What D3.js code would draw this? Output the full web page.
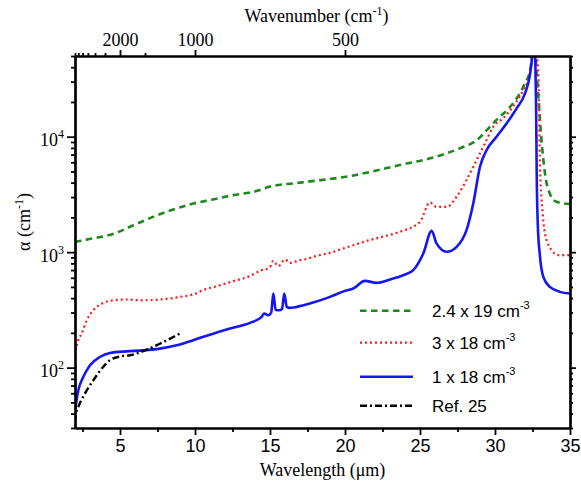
<!DOCTYPE html>
<html>
<head>
<meta charset="utf-8">
<script src="https://cdn.jsdelivr.net/npm/d3@7"></script>
<style>
  html, body { margin: 0; padding: 0; background: #fff; }
  svg { display: block; }
</style>
</head>
<body>
<svg id="chart" width="581" height="488"></svg>
<script>
// Absorption coefficient vs wavelength for three carrier densities plus a literature curve.

// 2.4 x 10^19 cm^-3
const wlHigh = [2.0, 3.2, 4.6, 5.9, 7.2, 8.55, 9.9, 11.2, 12.55, 13.9, 15.2, 16.55, 17.55, 20.3, 23.65, 25.9, 27.65, 28.8, 29.45, 30.1, 30.8, 31.45, 32.0, 32.35, 32.6, 32.78, 33.1, 33.33, 33.65, 34.1, 35.0];
const alphaHigh = [1230, 1315, 1450, 1710, 2020, 2340, 2640, 2860, 3120, 3330, 3750, 3940, 4080, 4560, 5680, 6620, 7930, 9360, 11400, 14000, 17000, 21500, 29000, 38000, 65000, 35500, 9360, 4820, 3230, 2730, 2610];

// 3 x 10^18 cm^-3
const wlMid = [2.0, 2.08, 2.22, 2.44, 2.78, 3.22, 3.88, 4.55, 5.45, 6.35, 7.65, 9.0, 9.9, 10.55, 11.45, 12.55, 13.65, 14.33, 14.98, 15.22, 15.55, 16.0, 16.33, 17.0, 17.55, 18.1, 19.0, 19.88, 20.78, 21.45, 22.4, 23.65, 25.0, 25.66, 26.1, 26.78, 27.44, 28.1, 28.55, 29.0, 29.44, 29.88, 30.55, 31.2, 31.88, 32.33, 32.6, 32.89, 33.0, 33.18, 33.33, 33.78, 34.22, 35.0];
const alphaMid = [140, 151, 173, 197, 257, 314, 363, 383, 389, 383, 389, 410, 432, 469, 507, 561, 620, 689, 736, 841, 757, 865, 807, 853, 881, 929, 986, 1077, 1173, 1252, 1350, 1500, 1832, 2696, 2470, 2470, 3020, 4210, 5490, 7180, 9360, 12210, 14450, 18200, 25400, 35500, 65000, 35500, 5490, 2170, 1453, 1040, 942, 942];

// 1 x 10^18 cm^-3
const wlLow = [2.0, 2.22, 2.55, 3.0, 3.66, 4.33, 5.44, 6.55, 7.66, 8.78, 9.88, 11.0, 12.33, 13.66, 14.44, 14.62, 14.88, 15.08, 15.22, 15.38, 15.6, 15.8, 15.95, 16.12, 16.3, 16.78, 17.88, 19.0, 20.0, 20.55, 21.33, 22.1, 23.0, 23.88, 24.55, 25.22, 25.78, 26.1, 26.78, 27.44, 28.1, 28.55, 29.0, 29.44, 30.1, 30.78, 31.44, 32.0, 32.33, 32.5, 32.6, 32.68, 32.74, 32.78, 32.85, 33.0, 33.22, 33.66, 34.33, 35.0];
const alphaLow = [42, 63.6, 82.8, 105, 123.6, 134, 138.4, 141, 146, 156, 173, 193, 218, 244, 275, 294, 284, 300, 438, 316, 314, 322, 438, 336, 329, 336, 366, 410, 462, 484, 564, 542, 580, 631, 699, 975, 1531, 1190, 1007, 1112, 1552, 2643, 5490, 7670, 10000, 13060, 17620, 23770, 34300, 52000, 75000, 52000, 18200, 4820, 1775, 910, 611, 500, 453, 438];

// Ref. 25
const wlRef = [2.0, 2.05, 2.22, 2.66, 3.22, 3.78, 4.33, 5.0, 5.66, 6.55, 7.66, 8.55, 9.1];
const alphaRef = [34, 38.6, 45.5, 59.6, 77.6, 98, 116, 125, 128, 139, 161, 184, 201];

// Axis ticks
const xMajorTicks = [5, 10, 15, 20, 25, 30, 35];
const xMinorTicks = [2.5, 7.5, 12.5, 17.5, 22.5, 27.5, 32.5];
const wnMajorTicks = [2000, 1000, 500];
const wnMinorTicks = [5000, 4500, 4000, 3500, 3000, 2500, 1500];
const yMajorTicks = [100, 1000, 10000];
const yMinorTicks = [30, 40, 50, 60, 70, 80, 90, 200, 300, 400, 500, 600, 700, 800, 900,
                     2000, 3000, 4000, 5000, 6000, 7000, 8000, 9000, 20000, 30000, 40000, 50000];

const legendLabels = ["2.4 x 19 cm", "3 x 18 cm", "1 x 18 cm", "Ref. 25"];
const legendSups = ["-3", "-3", "-3", ""];

const SERIF = "'Liberation Serif', 'Times New Roman', Times, 'DejaVu Serif', serif";
const SANS = "'Liberation Sans', Arial, Helvetica, sans-serif";

const plotL = 75, plotR = 570, plotT = 56, plotB = 428;
const svg = d3.select("#chart");

const x = d3.scaleLinear().domain([2, 35]).range([plotL, plotR]);
const y = d3.scaleLog().domain([30, 50000]).range([plotB, plotT]);

svg.append("defs").append("clipPath").attr("id", "plotClip")
  .append("rect").attr("x", plotL).attr("y", plotT).attr("width", plotR - plotL).attr("height", plotB - plotT);

const series = [
  { wl: wlHigh, a: alphaHigh, color: "#1b8a1b", width: 2.6, dash: "6.5,4.5" },
  { wl: wlMid,  a: alphaMid,  color: "#ff1a1a", width: 2.2, dash: "2,3" },
  { wl: wlLow,  a: alphaLow,  color: "#1616f2", width: 2.6, dash: null },
  { wl: wlRef,  a: alphaRef,  color: "#000000", width: 2.4, dash: "7,3,2,3" }
];

const line = d3.line().x(d => x(d[0])).y(d => y(d[1])).curve(d3.curveMonotoneX);

const plot = svg.append("g").attr("clip-path", "url(#plotClip)");
series.forEach(s => {
  plot.append("path")
    .datum(s.wl.map((w, i) => [w, s.a[i]]))
    .attr("d", line)
    .attr("fill", "none")
    .attr("stroke", s.color)
    .attr("stroke-width", s.width)
    .attr("stroke-dasharray", s.dash)
    .attr("stroke-linejoin", "round");
});

function styleAxis(g) {
  g.select(".domain").attr("stroke", "#000").attr("stroke-width", 2.2);
  g.selectAll(".tick line").attr("stroke", "#000").attr("stroke-width", 1.8);
}

// bottom axis
svg.append("g").attr("transform", `translate(0,${plotB})`)
  .call(d3.axisBottom(x).tickValues(xMajorTicks).tickSize(7).tickSizeOuter(0).tickPadding(4).tickFormat(d3.format("d")))
  .call(styleAxis)
  .call(g => g.attr("font-family", SANS).attr("font-size", 18))
  .call(g => g.selectAll("text").attr("fill", "#000"));
svg.append("g").attr("transform", `translate(0,${plotB})`)
  .call(d3.axisBottom(x).tickValues(xMinorTicks).tickSize(4).tickSizeOuter(0).tickFormat(""))
  .call(styleAxis);

// top axis (wavenumber)
svg.append("g").attr("transform", `translate(0,${plotT})`)
  .call(d3.axisTop(x).tickValues(wnMajorTicks.map(w => 1e4 / w)).tickSize(6).tickSizeOuter(0).tickPadding(4)
    .tickFormat(d => Math.round(1e4 / d)))
  .call(styleAxis)
  .call(g => g.attr("font-family", SERIF).attr("font-size", 18))
  .call(g => g.selectAll("text").attr("fill", "#000"));
svg.append("g").attr("transform", `translate(0,${plotT})`)
  .call(d3.axisTop(x).tickValues(wnMinorTicks.map(w => 1e4 / w)).tickSize(3).tickSizeOuter(0).tickFormat(""))
  .call(styleAxis);

// left axis
const leftAxis = svg.append("g").attr("transform", `translate(${plotL},0)`)
  .call(d3.axisLeft(y).tickValues(yMajorTicks).tickSize(8).tickSizeOuter(0).tickFormat(""))
  .call(styleAxis);
svg.append("g").attr("transform", `translate(${plotL},0)`)
  .call(d3.axisLeft(y).tickValues(yMinorTicks).tickSize(4).tickSizeOuter(0).tickFormat(""))
  .call(styleAxis);
leftAxis.attr("font-family", SERIF).attr("font-size", 18);
leftAxis.selectAll(".tick").append("text")
  .attr("fill", "#000")
  .attr("text-anchor", "end").attr("x", -11).attr("y", 9)
  .each(function(d) {
    const t = d3.select(this);
    t.append("tspan").text("10");
    t.append("tspan").attr("font-size", 12).attr("dy", -8).text(Math.round(Math.log10(d)));
  });

// right axis
svg.append("g").attr("transform", `translate(${plotR},0)`)
  .call(d3.axisRight(y).tickValues(yMajorTicks).tickSize(6).tickSizeOuter(0).tickFormat(""))
  .call(styleAxis);
svg.append("g").attr("transform", `translate(${plotR},0)`)
  .call(d3.axisRight(y).tickValues(yMinorTicks).tickSize(3).tickSizeOuter(0).tickFormat(""))
  .call(styleAxis);

// axis titles
const cx = (plotL + plotR) / 2;
const topTitle = svg.append("text").attr("font-family", SERIF).attr("font-size", 18)
  .attr("text-anchor", "middle").attr("x", cx - 6).attr("y", 22);
topTitle.append("tspan").text("Wavenumber (cm");
topTitle.append("tspan").attr("font-size", 12).attr("dy", -7).text("-1");
topTitle.append("tspan").attr("dy", 7).text(")");

svg.append("text").attr("font-family", SERIF).attr("font-size", 18)
  .attr("text-anchor", "middle").attr("x", cx).attr("y", 476)
  .text("Wavelength (\u03bcm)");

const yTitle = svg.append("text").attr("font-family", SERIF).attr("font-size", 18)
  .attr("text-anchor", "middle").attr("transform", `translate(30,222) rotate(-90)`);
yTitle.append("tspan").text("\u03b1 (cm");
yTitle.append("tspan").attr("font-size", 12).attr("dy", -7).text("-1");
yTitle.append("tspan").attr("dy", 7).text(")");

// legend
const legendY = [310.7, 342.7, 376.7, 405.7];
const legend = svg.append("g");
series.forEach((s, i) => {
  legend.append("line")
    .attr("x1", 360).attr("x2", 413).attr("y1", legendY[i]).attr("y2", legendY[i])
    .attr("stroke", s.color).attr("stroke-width", s.width).attr("stroke-dasharray", s.dash);
  const t = legend.append("text").attr("font-family", SANS).attr("font-size", 17)
    .attr("x", 432).attr("y", legendY[i] + 6);
  t.append("tspan").text(legendLabels[i]);
  if (legendSups[i]) t.append("tspan").attr("font-size", 11).attr("dy", -8).text(legendSups[i]);
});
</script>
</body>
</html>
